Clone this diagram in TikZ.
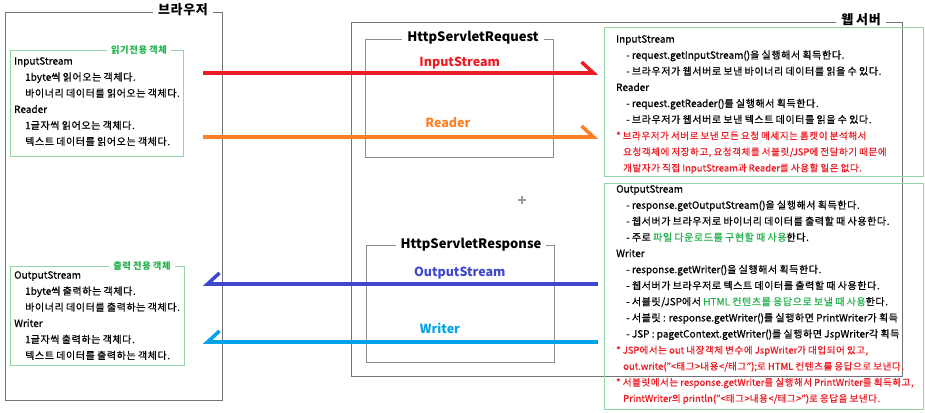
\documentclass[tikz,border=0pt]{standalone}
\usepackage{fontspec}
\setmainfont{Noto Sans CJK KR}[UprightFeatures = {FakeBold = 0.7}]
\usetikzlibrary{arrows.meta}

% a little extra room after every Hangul syllable
\XeTeXinterchartokenstate = 1
\newXeTeXintercharclass\hangulclass
\count255 = "AC00
\loop
	\XeTeXcharclass\count255 = \hangulclass
	\ifnum\count255 < "D7A3 \advance\count255 by 1 \repeat
\XeTeXinterchartoks\hangulclass\hangulclass = {\kern0.6pt}
\XeTeXinterchartoks\hangulclass 0 = {\kern0.6pt}

\definecolor{isred}{RGB}{237,28,36}
\definecolor{rdorange}{RGB}{255,127,39}
\definecolor{osblue}{RGB}{63,72,204}
\definecolor{wrcyan}{RGB}{0,162,232}
\definecolor{notegreen}{RGB}{34,177,76}
\definecolor{boxgreen}{RGB}{150,212,168}

\tikzset{
	frame/.style = {draw = black!55, line width = 0.9pt, anchor = north west, inner sep = 0pt},
	greenframe/.style = {draw = boxgreen, line width = 0.9pt, anchor = north west, inner sep = 0pt},
	boxtitle/.style = {fill = white, inner xsep = 5pt, inner ysep = 1pt, font = \bfseries\fontsize{13}{13}\selectfont},
	greentitle/.style = {fill = white, inner xsep = 4pt, inner ysep = 1pt, text = notegreen, font = \bfseries\fontsize{9.3}{9.3}\selectfont},
	infotext/.style = {anchor = north west, inner sep = 0pt, align = left, font = \fontsize{10}{16.1}\selectfont},
	flow/.style = {line width = 3.5pt, -{Straight Barb[harpoon, length = 12pt, width = 22pt]}},
	flowback/.style = {line width = 3.5pt, -{Straight Barb[harpoon, swap, length = 12pt, width = 22pt]}},
	flowlabel/.style = {anchor = base, yshift = 8pt, font = \bfseries\fontsize{12.5}{12.5}\selectfont}
}
\newcommand{\ind}{\hspace*{11pt}}
\newcommand{\dash}{\hspace*{10pt}- }
\newcommand{\cont}{\hspace*{7pt}}
\newcommand{\warn}[1]{{\fontsize{9.5}{16.1}\selectfont\color{isred}#1}}

\begin{document}
\begin{tikzpicture}[x = 1pt, y = -1pt]
	\useasboundingbox (0,0) rectangle (925,412);
	% browser side
	\node [frame, minimum width = 217pt, minimum height = 388pt] (browser) at (5,12) {};
	\node [boxtitle] (browsertitle) at (183,10) {브라우저};
	\node [greenframe, minimum width = 173pt, minimum height = 106pt] (readbox) at (10,50) {};
	\node [greentitle] (readtitle) at (139,50) {읽기전용 객체};
	\node [infotext] (readtext) at (14,57) {InputStream\\
		\ind 1byte씩 읽어오는 객체다.\\
		\ind 바이너리 데이터를 읽어오는 객체다.\\
		Reader\\
		\ind 1글자씩 읽어오는 객체다.\\
		\ind 텍스트 데이터를 읽어오는 객체다.};
	\node [greenframe, minimum width = 174pt, minimum height = 99pt] (writebox) at (10,266) {};
	\node [greentitle] (writetitle) at (142,266) {출력 전용 객체};
	\node [infotext] (writetext) at (14,271) {OutputStream\\
		\ind 1byte씩 출력하는 객체다.\\
		\ind 바이너리 데이터를 출력하는 객체다.\\
		Writer\\
		\ind 1글자씩 출력하는 객체다.\\
		\ind 텍스트 데이터를 출력하는 객체다.};
	% web server side
	\node [frame, minimum width = 551pt, minimum height = 354pt] (server) at (351,22) {};
	\node [boxtitle] (servertitle) at (861,20) {웹 서버};
	\node [frame, draw = black!45, minimum width = 188pt, minimum height = 118pt] (request) at (365,39) {};
	\node [boxtitle] (requesttitle) at (473,38) {HttpServletRequest};
	\node [frame, draw = black!45, minimum width = 188pt, minimum height = 117pt] (response) at (366,245) {};
	\node [boxtitle] (responsetitle) at (471,245) {HttpServletResponse};
	\node [greenframe, minimum width = 319pt, minimum height = 149pt] (reqnote) at (604,27) {};
	\node [infotext] (reqtext) at (616,35) {InputStream\\
		\dash request.getInputStream()을 실행해서 획득한다.\\
		\dash 브라우저가 웹서버로 보낸 바이너리 데이터를 읽을 수 있다.\\
		Reader\\
		\dash request.getReader()를 실행해서 획득한다.\\
		\dash 브라우저가 웹서버로 보낸 텍스트 데이터를 읽을 수 있다.\\
		\warn{* 브라우저가 서버로 보낸 모든 요청 메세지는 톰캣이 분석해서}\\
		\cont\warn{요청객체에 저장하고, 요청객체를 서블릿/JSP에 전달하기 때문에}\\
		\cont\warn{개발자가 직접 InputStream과 Reader를 사용할 일은 없다.}};
	\node [greenframe, minimum width = 319pt, minimum height = 226pt] (resnote) at (604,183) {};
	\node [infotext] (restext) at (616,185) {OutputStream\\
		\dash response.getOutputStream()을 실행해서 획득한다.\\
		\dash 웹서버가 브라우저로 바이너리 데이터를 출력할 때 사용한다.\\
		\dash 주로 \textcolor{notegreen}{파일 다운로드를 구현할 때 사용}한다.\\
		Writer\\
		\dash response.getWriter()을 실행해서 획득한다.\\
		\dash 웹서버가 브라우저로 텍스트 데이터를 출력할 때 사용한다.\\
		\dash 서블릿/JSP에서 \textcolor{notegreen}{HTML 컨텐츠를 응답으로 보낼 때 사용}한다.\\
		\dash 서블릿 : response.getWriter()를 실행하면 PrintWriter가 획득\\
		\dash JSP : pagetContext.getWriter()를 실행하면 JspWriter각 획득\\
		\warn{* JSP에서는 out 내장객체 변수에 JspWriter가 대입되어 있고,}\\
		\cont\warn{out.write("<태그>내용</태그");로 HTML 컨텐츠를 응답으로 보낸다.}\\
		\warn{* 서블릿에서는 response.getWriter를 실행해서 PrintWriter를 획득하고,}\\
		\cont\warn{PrintWriter의 println("<태그>내용</태그>")로 응답을 보낸다.}};
	% streams
	\coordinate (inL) at (203,73);
	\coordinate (inR) at (598,73);
	\coordinate (rdL) at (203,137);
	\coordinate (rdR) at (598,137);
	\coordinate (osL) at (203,284);
	\coordinate (osR) at (598,284);
	\coordinate (wrL) at (203,342);
	\coordinate (wrR) at (598,342);
	\draw [flow, isred] (inL) -- node [flowlabel, pos = 0.65, yshift = -1.5pt] (inlabel) {InputStream} (inR);
	\draw [flow, rdorange] (rdL) -- node [flowlabel, pos = 0.62, yshift = 1.5pt] (rdlabel) {Reader} (rdR);
	\draw [flowback, osblue] (osR) -- node [flowlabel, pos = 0.35] (oslabel) {OutputStream} (osL);
	\draw [flowback, wrcyan] (wrR) -- node [flowlabel, pos = 0.40, yshift = 1pt] (wrlabel) {Writer} (wrL);
	\draw [black!40, line width = 1.2pt] (518,200) -- (526,200) (522,196) -- (522,204);
\end{tikzpicture}
\end{document}
